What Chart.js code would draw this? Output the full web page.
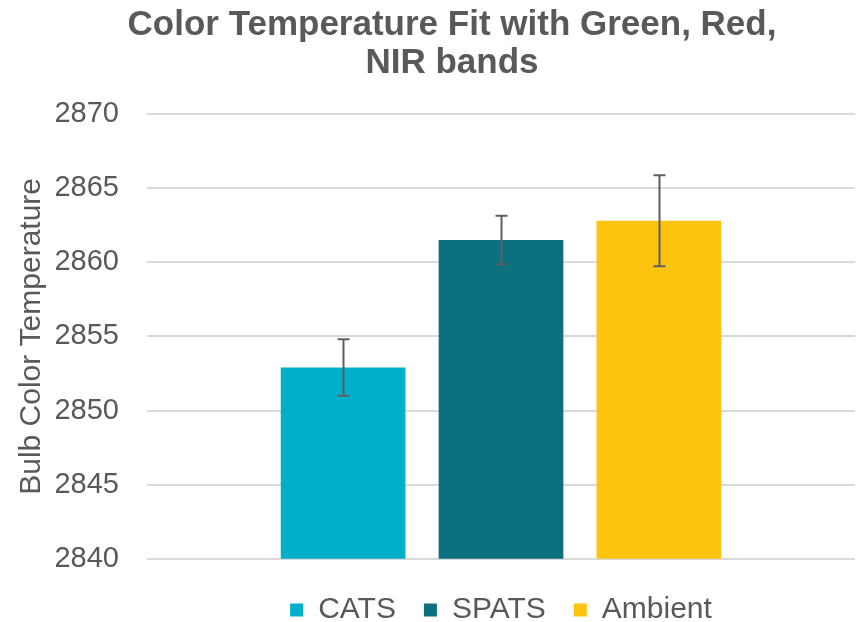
<!DOCTYPE html>
<html>
<head>
<meta charset="utf-8">
<title>Color Temperature Fit</title>
<script src="https://cdn.jsdelivr.net/npm/chart.js@4"></script>
<style>
  html, body { margin: 0; padding: 0; background: #fff; }
  #wrap { width: 856px; height: 622px; }
</style>
</head>
<body>
<div id="wrap"><canvas id="chart" width="856" height="622"></canvas></div>
<script>
// single category, one dataset per method
const categories = [''];
const seriesNames = ['CATS', 'SPATS', 'Ambient'];
const seriesValues = [2852.9, 2861.5, 2862.8];
const seriesErrors = [1.9, 1.63, 3.07];
const seriesColors = ['#00AFC9', '#0D707E', '#FCC30F'];
const yTicks = [2840, 2845, 2850, 2855, 2860, 2865, 2870];
const titleLines = ['Color Temperature Fit with Green, Red,', 'NIR bands'];

const textColor = '#595959';
const fontFamily = '"Liberation Sans", Arial, sans-serif';
Chart.defaults.font.family = fontFamily;
Chart.defaults.color = textColor;

// chart heading, centred a bit left of the plot like the office template
const heading = {
    id: 'heading',
    afterDraw(chart) {
        const ctx = chart.ctx;
        ctx.save();
        ctx.fillStyle = textColor;
        ctx.font = 'bold 35px ' + fontFamily;
        ctx.textAlign = 'center';
        ctx.textBaseline = 'middle';
        titleLines.forEach((line, i) => ctx.fillText(line, 452, 25 + i * 38));
        ctx.restore();
    }
};

// draws the +/- error whiskers on top of each bar
const errorBars = {
    id: 'errorBars',
    afterDatasetsDraw(chart) {
        const ctx = chart.ctx;
        const y = chart.scales.y;
        ctx.save();
        ctx.strokeStyle = '#5f5f5f';
        ctx.lineWidth = 2;
        chart.data.datasets.forEach((ds, i) => {
            const meta = chart.getDatasetMeta(i);
            meta.data.forEach((bar, j) => {
                const v = ds.data[j];
                const e = ds.errors[j];
                const x = Math.round(bar.x) + 0.5;
                const top = y.getPixelForValue(v + e);
                const bot = y.getPixelForValue(v - e);
                ctx.beginPath();
                ctx.moveTo(x, top);
                ctx.lineTo(x, bot);
                ctx.moveTo(x - 6, top);
                ctx.lineTo(x + 6, top);
                ctx.moveTo(x - 6, bot);
                ctx.lineTo(x + 6, bot);
                ctx.stroke();
            });
        });
        ctx.restore();
    }
};

new Chart(document.getElementById('chart'), {
    type: 'bar',
    data: {
        labels: categories,
        datasets: seriesNames.map((name, i) => ({
            label: name,
            data: [seriesValues[i]],
            errors: [seriesErrors[i]],
            backgroundColor: seriesColors[i],
            borderWidth: 0,
            categoryPercentage: 0.669,
            barPercentage: 0.79
        }))
    },
    options: {
        responsive: false,
        animation: false,
        devicePixelRatio: 1,
        layout: { padding: { left: 14, right: 1, top: 114, bottom: -13 } },
        plugins: {
            title: { display: false },
            legend: {
                position: 'bottom',
                fullSize: false,
                // empty legend title only adds a little space above the items
                title: { display: true, text: '', font: { size: 1 }, padding: { top: 4, bottom: 3 } },
                labels: {
                    color: textColor,
                    font: { size: 30 },
                    boxWidth: 13,
                    boxHeight: 13,
                    padding: 28
                }
            },
            tooltip: { enabled: false }
        },
        scales: {
            x: {
                display: false
            },
            y: {
                min: 2840,
                max: 2870,
                afterBuildTicks(scale) {
                    scale.ticks = yTicks.map(v => ({ value: v }));
                },
                afterFit(scale) {
                    scale.width = 133;
                },
                border: { display: false },
                grid: { color: '#d9d9d9', lineWidth: 2, drawTicks: false },
                ticks: {
                    color: textColor,
                    font: { size: 29 },
                    padding: 28,
                    callback: v => String(v)
                },
                title: {
                    display: true,
                    text: 'Bulb Color Temperature',
                    color: textColor,
                    font: { size: 30 },
                    padding: { top: 0, bottom: 4 }
                }
            }
        }
    },
    plugins: [errorBars, heading]
});
</script>
</body>
</html>
